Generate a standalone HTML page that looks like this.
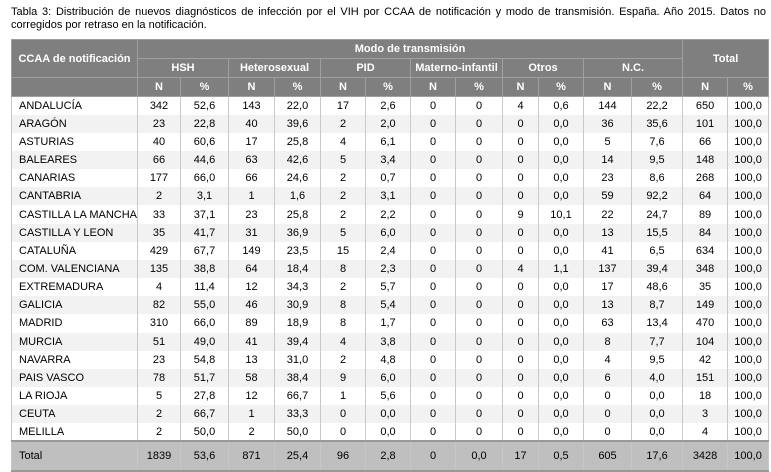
<!DOCTYPE html>
<html><head><meta charset="utf-8"><style>
body{margin:0;width:771px;height:471px;background:#fff;font-family:"Liberation Sans",Arial,sans-serif;position:relative;overflow:hidden}
.t{position:absolute;left:11px;top:6px;width:755px;font-size:11px;line-height:13px;color:#000;text-align:justify}
table{position:absolute;left:11px;top:39px;width:757px;border-collapse:collapse;table-layout:fixed;font-size:11px;color:#000}
td,th{padding:0;text-align:center;white-space:nowrap}
th{background:#7f7f7f;color:#fff;font-weight:bold;border:1px solid #a0a0a0}
thead tr{height:19px}
tbody tr{height:18.16px}
tbody td{border-left:1px solid #c8c8c8;border-right:1px solid #c8c8c8}
tbody tr:nth-child(even) td{background:#f2f2f2}
tbody tr:nth-child(odd) td{background:#fff}
td.l{text-align:left;padding-left:7px}
tr.tot td{background:#bfbfbf!important;height:28px;border-top:2px solid #999;border-bottom:2px solid #999}
</style></head><body>
<div class="t">Tabla 3: Distribución de nuevos diagnósticos de infección por el VIH por CCAA de notificación y modo de transmisión. España. Año 2015. Datos no corregidos por retraso en la notificación.</div>
<table>
<colgroup><col style="width:126px"><col style="width:43px"><col style="width:48px"><col style="width:46px"><col style="width:46px"><col style="width:45px"><col style="width:45px"><col style="width:45px"><col style="width:47px"><col style="width:36px"><col style="width:45px"><col style="width:48px"><col style="width:51px"><col style="width:45px"><col style="width:41px"></colgroup>
<thead>
<tr><th rowspan="2">CCAA de notificación</th><th colspan="12">Modo de transmisión</th><th colspan="2" rowspan="2">Total</th></tr>
<tr><th colspan="2">HSH</th><th colspan="2">Heterosexual</th><th colspan="2">PID</th><th colspan="2">Materno-infantil</th><th colspan="2">Otros</th><th colspan="2">N.C.</th></tr>
<tr><th></th><th>N</th><th>%</th><th>N</th><th>%</th><th>N</th><th>%</th><th>N</th><th>%</th><th>N</th><th>%</th><th>N</th><th>%</th><th>N</th><th>%</th></tr>
</thead>
<tbody>
<tr><td class="l">ANDALUCÍA</td><td>342</td><td>52,6</td><td>143</td><td>22,0</td><td>17</td><td>2,6</td><td>0</td><td>0</td><td>4</td><td>0,6</td><td>144</td><td>22,2</td><td>650</td><td>100,0</td></tr>
<tr><td class="l">ARAGÓN</td><td>23</td><td>22,8</td><td>40</td><td>39,6</td><td>2</td><td>2,0</td><td>0</td><td>0</td><td>0</td><td>0,0</td><td>36</td><td>35,6</td><td>101</td><td>100,0</td></tr>
<tr><td class="l">ASTURIAS</td><td>40</td><td>60,6</td><td>17</td><td>25,8</td><td>4</td><td>6,1</td><td>0</td><td>0</td><td>0</td><td>0,0</td><td>5</td><td>7,6</td><td>66</td><td>100,0</td></tr>
<tr><td class="l">BALEARES</td><td>66</td><td>44,6</td><td>63</td><td>42,6</td><td>5</td><td>3,4</td><td>0</td><td>0</td><td>0</td><td>0,0</td><td>14</td><td>9,5</td><td>148</td><td>100,0</td></tr>
<tr><td class="l">CANARIAS</td><td>177</td><td>66,0</td><td>66</td><td>24,6</td><td>2</td><td>0,7</td><td>0</td><td>0</td><td>0</td><td>0,0</td><td>23</td><td>8,6</td><td>268</td><td>100,0</td></tr>
<tr><td class="l">CANTABRIA</td><td>2</td><td>3,1</td><td>1</td><td>1,6</td><td>2</td><td>3,1</td><td>0</td><td>0</td><td>0</td><td>0,0</td><td>59</td><td>92,2</td><td>64</td><td>100,0</td></tr>
<tr><td class="l">CASTILLA LA MANCHA</td><td>33</td><td>37,1</td><td>23</td><td>25,8</td><td>2</td><td>2,2</td><td>0</td><td>0</td><td>9</td><td>10,1</td><td>22</td><td>24,7</td><td>89</td><td>100,0</td></tr>
<tr><td class="l">CASTILLA Y LEON</td><td>35</td><td>41,7</td><td>31</td><td>36,9</td><td>5</td><td>6,0</td><td>0</td><td>0</td><td>0</td><td>0,0</td><td>13</td><td>15,5</td><td>84</td><td>100,0</td></tr>
<tr><td class="l">CATALUÑA</td><td>429</td><td>67,7</td><td>149</td><td>23,5</td><td>15</td><td>2,4</td><td>0</td><td>0</td><td>0</td><td>0,0</td><td>41</td><td>6,5</td><td>634</td><td>100,0</td></tr>
<tr><td class="l">COM. VALENCIANA</td><td>135</td><td>38,8</td><td>64</td><td>18,4</td><td>8</td><td>2,3</td><td>0</td><td>0</td><td>4</td><td>1,1</td><td>137</td><td>39,4</td><td>348</td><td>100,0</td></tr>
<tr><td class="l">EXTREMADURA</td><td>4</td><td>11,4</td><td>12</td><td>34,3</td><td>2</td><td>5,7</td><td>0</td><td>0</td><td>0</td><td>0,0</td><td>17</td><td>48,6</td><td>35</td><td>100,0</td></tr>
<tr><td class="l">GALICIA</td><td>82</td><td>55,0</td><td>46</td><td>30,9</td><td>8</td><td>5,4</td><td>0</td><td>0</td><td>0</td><td>0,0</td><td>13</td><td>8,7</td><td>149</td><td>100,0</td></tr>
<tr><td class="l">MADRID</td><td>310</td><td>66,0</td><td>89</td><td>18,9</td><td>8</td><td>1,7</td><td>0</td><td>0</td><td>0</td><td>0,0</td><td>63</td><td>13,4</td><td>470</td><td>100,0</td></tr>
<tr><td class="l">MURCIA</td><td>51</td><td>49,0</td><td>41</td><td>39,4</td><td>4</td><td>3,8</td><td>0</td><td>0</td><td>0</td><td>0,0</td><td>8</td><td>7,7</td><td>104</td><td>100,0</td></tr>
<tr><td class="l">NAVARRA</td><td>23</td><td>54,8</td><td>13</td><td>31,0</td><td>2</td><td>4,8</td><td>0</td><td>0</td><td>0</td><td>0,0</td><td>4</td><td>9,5</td><td>42</td><td>100,0</td></tr>
<tr><td class="l">PAIS VASCO</td><td>78</td><td>51,7</td><td>58</td><td>38,4</td><td>9</td><td>6,0</td><td>0</td><td>0</td><td>0</td><td>0,0</td><td>6</td><td>4,0</td><td>151</td><td>100,0</td></tr>
<tr><td class="l">LA RIOJA</td><td>5</td><td>27,8</td><td>12</td><td>66,7</td><td>1</td><td>5,6</td><td>0</td><td>0</td><td>0</td><td>0,0</td><td>0</td><td>0,0</td><td>18</td><td>100,0</td></tr>
<tr><td class="l">CEUTA</td><td>2</td><td>66,7</td><td>1</td><td>33,3</td><td>0</td><td>0,0</td><td>0</td><td>0</td><td>0</td><td>0,0</td><td>0</td><td>0,0</td><td>3</td><td>100,0</td></tr>
<tr><td class="l">MELILLA</td><td>2</td><td>50,0</td><td>2</td><td>50,0</td><td>0</td><td>0,0</td><td>0</td><td>0</td><td>0</td><td>0,0</td><td>0</td><td>0,0</td><td>4</td><td>100,0</td></tr>
<tr class="tot"><td class="l">Total</td><td>1839</td><td>53,6</td><td>871</td><td>25,4</td><td>96</td><td>2,8</td><td>0</td><td>0,0</td><td>17</td><td>0,5</td><td>605</td><td>17,6</td><td>3428</td><td>100,0</td></tr>
</tbody>
</table>
</body></html>
